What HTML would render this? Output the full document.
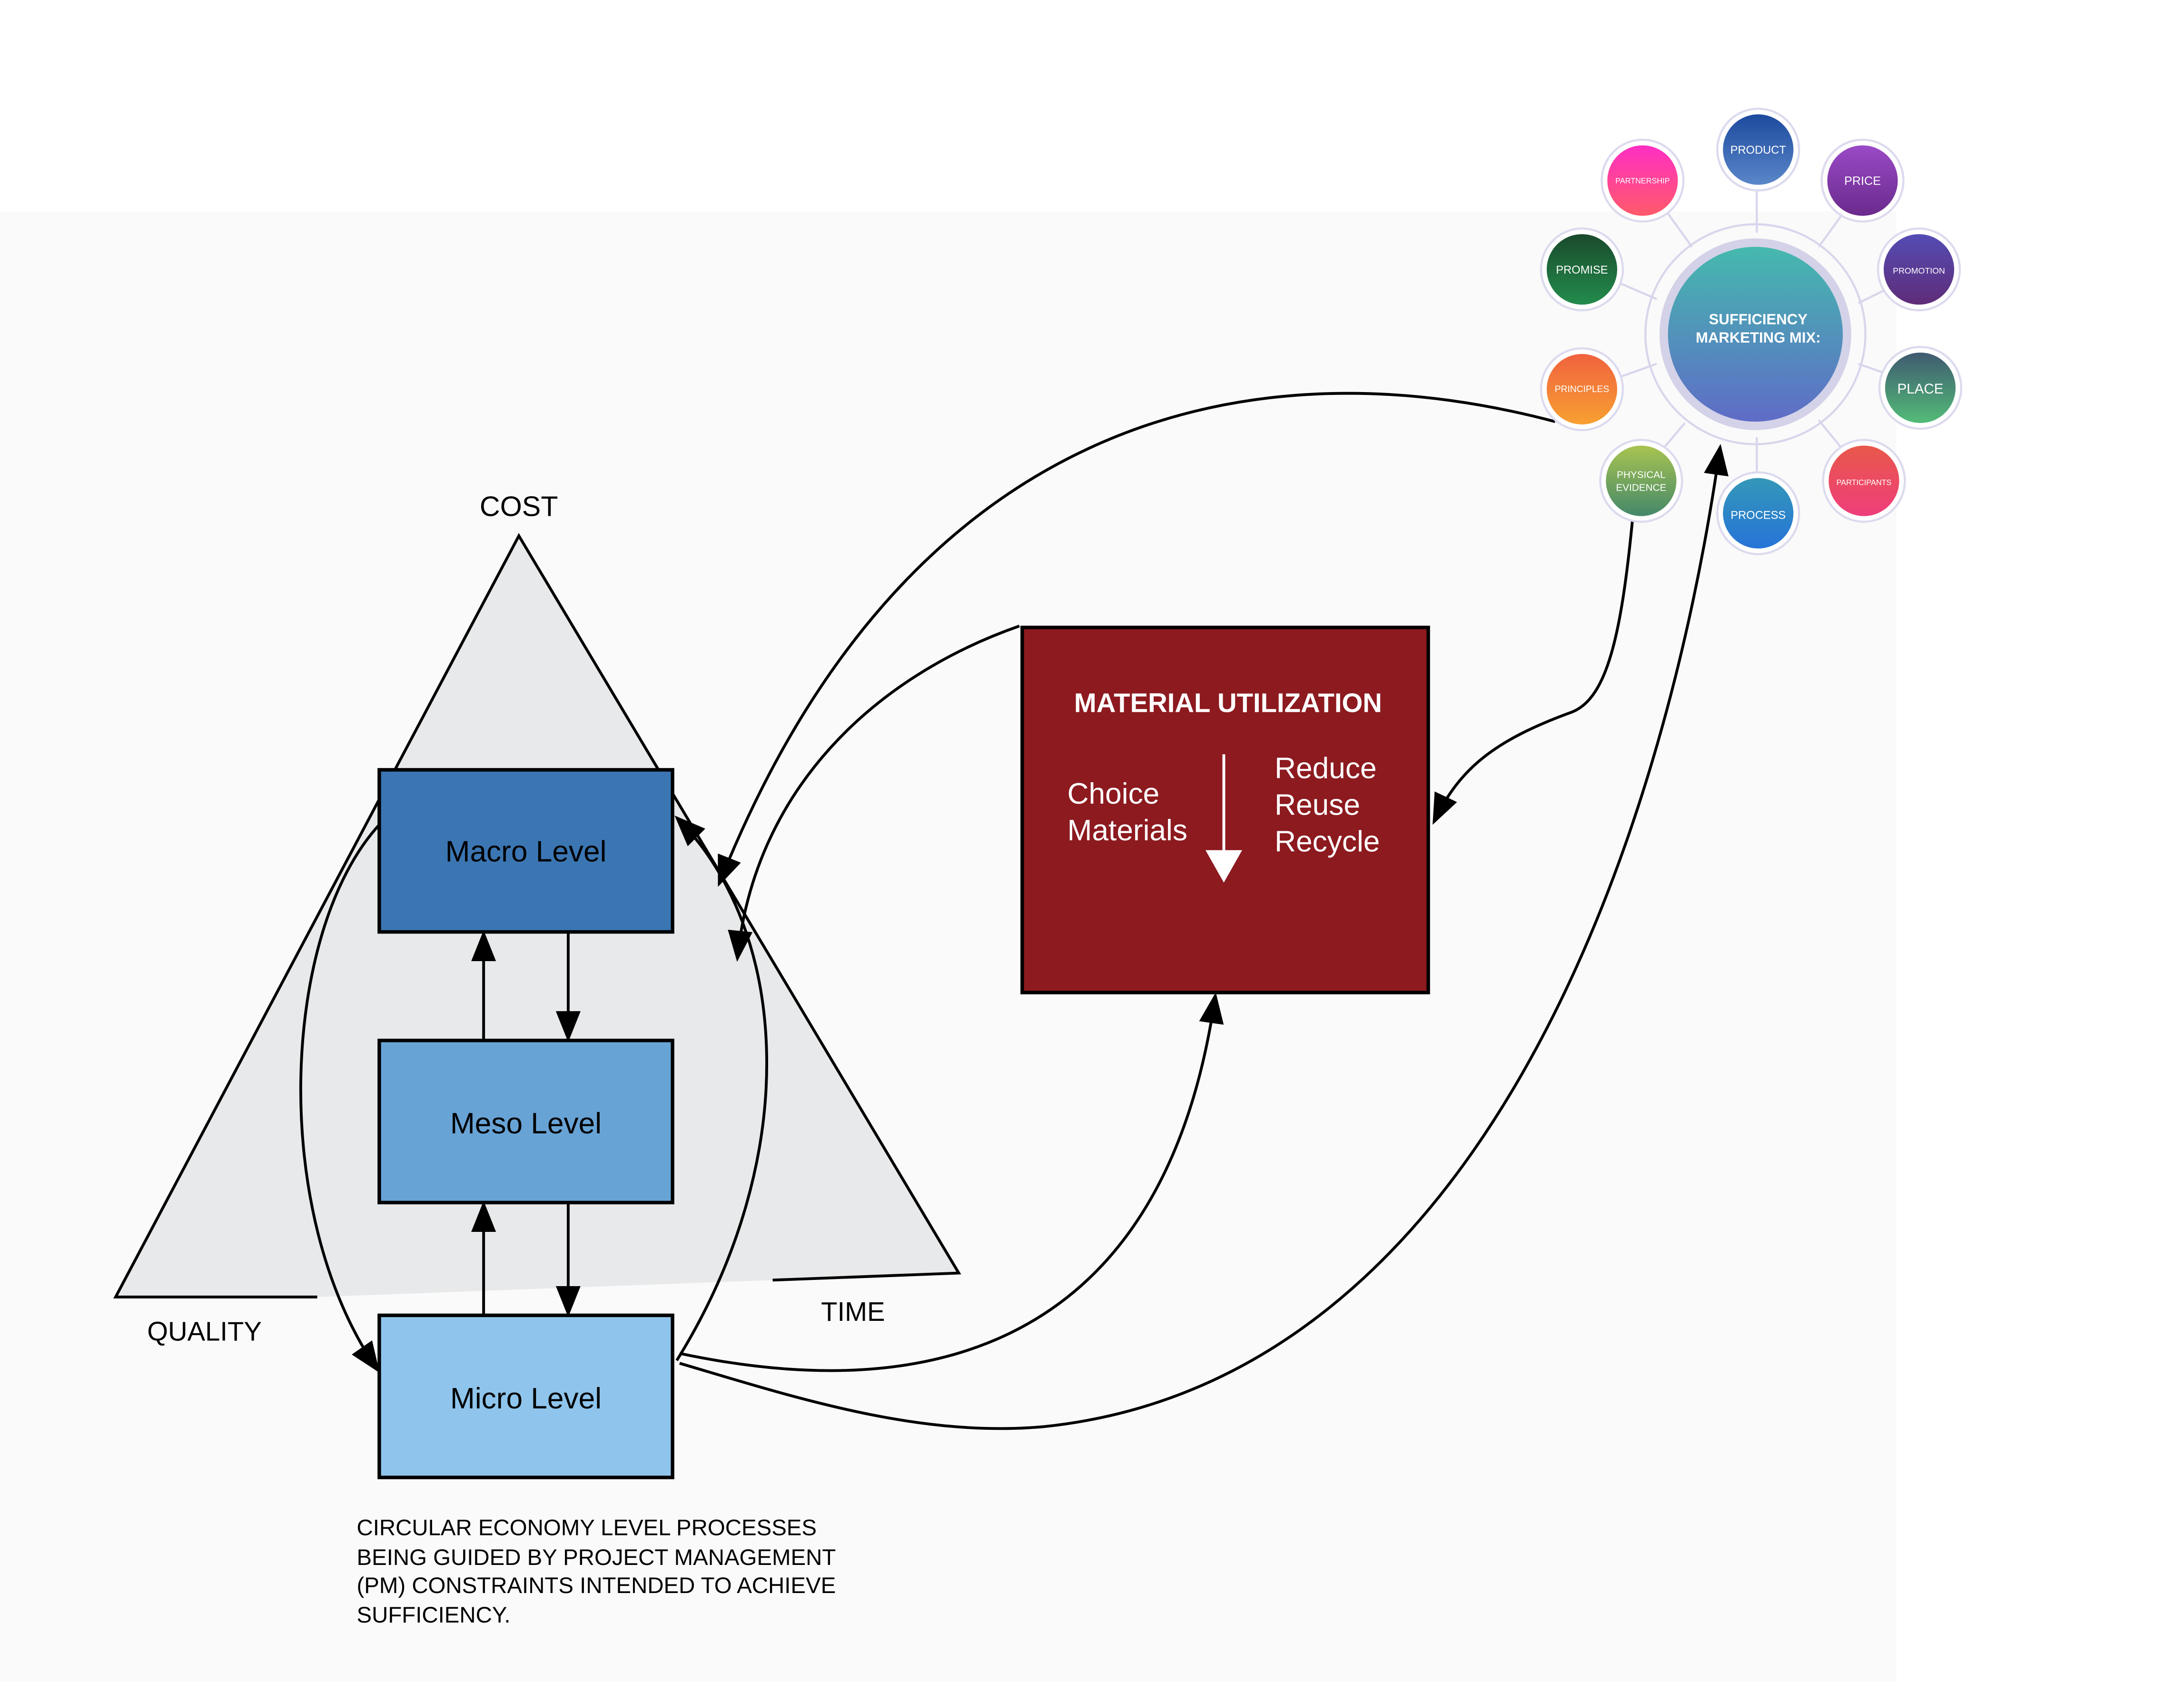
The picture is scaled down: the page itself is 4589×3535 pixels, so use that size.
<!DOCTYPE html>
<html><head><meta charset="utf-8"><style>
html,body{margin:0;padding:0;background:#fff}
svg{display:block}
text{font-family:"Liberation Sans",sans-serif}
</style></head><body>
<svg width="4589" height="3535" viewBox="0 0 1549 1193" xmlns="http://www.w3.org/2000/svg">
<defs>
<marker id="b" viewBox="0 0 10 10" refX="9" refY="5" markerWidth="22" markerHeight="22" markerUnits="userSpaceOnUse" orient="auto"><path d="M0,1 L10,5 L0,9 z" fill="#000"/></marker>
<linearGradient id="gc" x1="0" y1="0" x2="0" y2="1"><stop offset="0" stop-color="#45b9ae"/><stop offset="1" stop-color="#5f6cc7"/></linearGradient>
<linearGradient id="g1" x1="0" y1="0" x2="0" y2="1"><stop offset="0" stop-color="#1d4a9e"/><stop offset="1" stop-color="#5a87c9"/></linearGradient>
<linearGradient id="g2" x1="0" y1="0" x2="0" y2="1"><stop offset="0" stop-color="#9a4ac6"/><stop offset="1" stop-color="#6a2a8c"/></linearGradient>
<linearGradient id="g3" x1="0" y1="0" x2="0" y2="1"><stop offset="0" stop-color="#544cb4"/><stop offset="1" stop-color="#5f2c78"/></linearGradient>
<linearGradient id="g4" x1="0" y1="0" x2="0" y2="1"><stop offset="0" stop-color="#3f5a70"/><stop offset="1" stop-color="#53bc78"/></linearGradient>
<linearGradient id="g5" x1="0" y1="0" x2="0" y2="1"><stop offset="0" stop-color="#e8584a"/><stop offset="1" stop-color="#ef3e7b"/></linearGradient>
<linearGradient id="g6" x1="0" y1="0" x2="0" y2="1"><stop offset="0" stop-color="#3497b8"/><stop offset="1" stop-color="#2674d8"/></linearGradient>
<linearGradient id="g7" x1="0" y1="0" x2="0" y2="1"><stop offset="0" stop-color="#a8c450"/><stop offset="1" stop-color="#44886a"/></linearGradient>
<linearGradient id="g8" x1="0" y1="0" x2="0" y2="1"><stop offset="0" stop-color="#f0623e"/><stop offset="1" stop-color="#f8a032"/></linearGradient>
<linearGradient id="g9" x1="0" y1="0" x2="0" y2="1"><stop offset="0" stop-color="#1a4a2c"/><stop offset="1" stop-color="#238c4c"/></linearGradient>
<linearGradient id="g10" x1="0" y1="0" x2="0" y2="1"><stop offset="0" stop-color="#ff2fc4"/><stop offset="1" stop-color="#ff5a6a"/></linearGradient>
</defs>
<rect width="1549" height="1193" fill="#fff"/>
<rect x="0" y="150" width="1345" height="1043" fill="#fafafa"/>

<path d="M368,380 L82,920 L225,920 L548,908 L680,903 Z" fill="#e8e9ea"/>
<path d="M225,920 L82,920 L368,380 L680,903 L548,908" fill="none" stroke="#000" stroke-width="2"/>
<text x="368" y="366" font-size="20" text-anchor="middle">COST</text>
<text x="145" y="951" font-size="19" text-anchor="middle">QUALITY</text>
<text x="605" y="937" font-size="19" text-anchor="middle">TIME</text>

<rect x="269" y="546" width="208" height="115" fill="#3b76b3" stroke="#000" stroke-width="2.5"/>
<rect x="269" y="738" width="208" height="115" fill="#68a3d6" stroke="#000" stroke-width="2.5"/>
<rect x="269" y="933" width="208" height="115" fill="#8fc5ec" stroke="#000" stroke-width="2.5"/>
<text x="373" y="611" font-size="21" text-anchor="middle">Macro Level</text>
<text x="373" y="804" font-size="21" text-anchor="middle">Meso Level</text>
<text x="373" y="999" font-size="21" text-anchor="middle">Micro Level</text>
<g stroke="#000" stroke-width="2" fill="none">
<path d="M343,738 L343,662" marker-end="url(#b)"/>
<path d="M403,661 L403,737" marker-end="url(#b)"/>
<path d="M343,933 L343,854" marker-end="url(#b)"/>
<path d="M403,853 L403,932" marker-end="url(#b)"/>
<path d="M269,585 C200,660 190,860 268,972" marker-end="url(#b)"/>
<path d="M480,965 C570,820 560,660 480,580" marker-end="url(#b)"/>
<path d="M1103,299 C880,240 640,300 510,627" marker-end="url(#b)"/>
<path d="M723,444 C620,480 535,560 523,680" marker-end="url(#b)"/>
<path d="M1158,367 C1150,450 1140,495 1115,505 C1060,525 1035,545 1017,583" marker-end="url(#b)"/>
<path d="M482,960 C600,985 820,1000 862,706" marker-end="url(#b)"/>
<path d="M482,967 C560,990 650,1020 740,1012 C1050,980 1180,600 1220,317" marker-end="url(#b)"/>
</g>

<text x="253" y="1089" font-size="16">CIRCULAR ECONOMY LEVEL PROCESSES</text>
<text x="253" y="1110" font-size="16">BEING GUIDED BY PROJECT MANAGEMENT</text>
<text x="253" y="1130" font-size="16">(PM) CONSTRAINTS INTENDED TO ACHIEVE</text>
<text x="253" y="1151" font-size="16">SUFFICIENCY.</text>

<rect x="725" y="445" width="288" height="259" fill="#8c1a1f" stroke="#000" stroke-width="2.5"/>
<text x="871" y="505" font-size="19" font-weight="bold" fill="#fff" text-anchor="middle">MATERIAL UTILIZATION</text>
<text x="757" y="570" font-size="21" fill="#fff">Choice</text>
<text x="757" y="596" font-size="21" fill="#fff">Materials</text>
<text x="904" y="552" font-size="21" fill="#fff">Reduce</text>
<text x="904" y="578" font-size="21" fill="#fff">Reuse</text>
<text x="904" y="604" font-size="21" fill="#fff">Recycle</text>
<line x1="868" y1="535" x2="868" y2="605" stroke="#fff" stroke-width="2"/>
<path d="M855,603 L881,603 L868,626 Z" fill="#fff"/>

<g stroke="#d8d6ec" stroke-width="1.5">
<line x1="1246" y1="131" x2="1246" y2="165"/><line x1="1308" y1="150" x2="1290" y2="175"/>
<line x1="1338" y1="205" x2="1318" y2="215"/><line x1="1338" y1="265" x2="1318" y2="258"/>
<line x1="1308" y1="320" x2="1290" y2="298"/><line x1="1246" y1="339" x2="1246" y2="310"/>
<line x1="1178" y1="320" x2="1195" y2="300"/><line x1="1147" y1="268" x2="1175" y2="258"/>
<line x1="1147" y1="200" x2="1175" y2="212"/><line x1="1182" y1="150" x2="1200" y2="175"/>
</g>
<circle cx="1245" cy="237" r="78" fill="none" stroke="#d8d6ec" stroke-width="1.5"/>
<circle cx="1245" cy="237" r="68" fill="#d3d2e8"/>
<circle cx="1245" cy="237" r="62" fill="url(#gc)"/>
<text x="1247" y="230" font-size="10.5" font-weight="bold" fill="#fff" text-anchor="middle">SUFFICIENCY</text>
<text x="1247" y="243" font-size="10.5" font-weight="bold" fill="#fff" text-anchor="middle">MARKETING MIX:</text>
<g fill="#fff" stroke="#dcdaee" stroke-width="1.5">
<circle cx="1247" cy="106" r="29"/><circle cx="1321" cy="128" r="29"/><circle cx="1361" cy="191" r="29"/>
<circle cx="1362" cy="275" r="29"/><circle cx="1322" cy="341" r="29"/><circle cx="1247" cy="364" r="29"/>
<circle cx="1164" cy="341" r="29"/><circle cx="1122" cy="276" r="29"/><circle cx="1122" cy="191" r="29"/>
<circle cx="1165" cy="128" r="29"/>
</g>
<circle cx="1247" cy="106" r="25" fill="url(#g1)"/><circle cx="1321" cy="128" r="25" fill="url(#g2)"/>
<circle cx="1361" cy="191" r="25" fill="url(#g3)"/><circle cx="1362" cy="275" r="25" fill="url(#g4)"/>
<circle cx="1322" cy="341" r="25" fill="url(#g5)"/><circle cx="1247" cy="364" r="25" fill="url(#g6)"/>
<circle cx="1164" cy="341" r="25" fill="url(#g7)"/><circle cx="1122" cy="276" r="25" fill="url(#g8)"/>
<circle cx="1122" cy="191" r="25" fill="url(#g9)"/><circle cx="1165" cy="128" r="25" fill="url(#g10)"/>
<g fill="#fff" text-anchor="middle">
<text x="1247" y="109" font-size="8">PRODUCT</text>
<text x="1321" y="131" font-size="8.5">PRICE</text>
<text x="1361" y="194" font-size="6">PROMOTION</text>
<text x="1362" y="279" font-size="10">PLACE</text>
<text x="1322" y="344" font-size="5.5">PARTICIPANTS</text>
<text x="1247" y="368" font-size="8">PROCESS</text>
<text x="1164" y="339" font-size="7">PHYSICAL</text>
<text x="1164" y="348" font-size="7">EVIDENCE</text>
<text x="1122" y="278" font-size="6.5">PRINCIPLES</text>
<text x="1122" y="194" font-size="8">PROMISE</text>
<text x="1165" y="130" font-size="5.5">PARTNERSHIP</text>
</g>
</svg>
</body></html>
